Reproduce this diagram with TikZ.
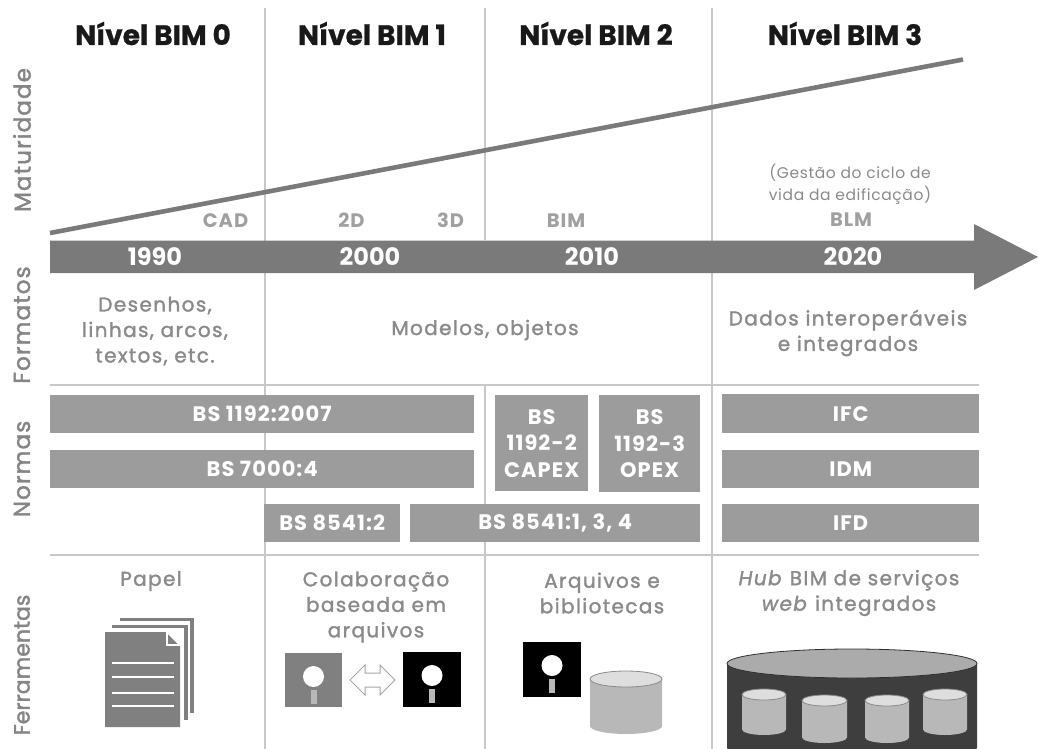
\documentclass[tikz,border=0pt]{standalone}
\usepackage{fontspec}
\setmainfont{Poppins}
\newfontfamily\medf[FakeBold=1.6,LetterSpace=7]{Poppins}
\newfontfamily\sidef[FakeBold=1.8,LetterSpace=5]{Poppins}
\newfontfamily\sidet[FakeBold=1.8]{Poppins}
\newfontfamily\thinf[LetterSpace=4]{Poppins}
\newfontfamily\boldsp[LetterSpace=5]{Poppins}
\newfontfamily\headf[FakeBold=0.8]{Poppins}
\definecolor{rule}{HTML}{C8C8C8}
\definecolor{bar}{HTML}{7A7A7A}
\definecolor{boxg}{HTML}{9C9C9C}
\definecolor{txt}{HTML}{8A8A8A}
\definecolor{lbl}{HTML}{858585}
\definecolor{pale}{HTML}{A0A0A0}
\definecolor{docg}{HTML}{808080}
\definecolor{cylb}{HTML}{B8B8B8}
\definecolor{cylt}{HTML}{DEDEDE}
\definecolor{hubb}{HTML}{3E3E3E}
\definecolor{hubt}{HTML}{ABABAB}
\newcommand{\fsz}[2]{\fontsize{#1}{#2}\selectfont}
\newcommand{\cylinder}[7]{%
  \pgfmathsetmacro{\cx}{(#1+#2)/2}\pgfmathsetmacro{\rx}{(#2-#1)/2}
  \pgfmathsetmacro{\ct}{#3+#5}\pgfmathsetmacro{\cb}{#4-#5}
  \fill[#6] (#1,\ct) -- (#1,\cb) arc[start angle=180,end angle=0,x radius=\rx,y radius=#5] -- (#2,\ct) -- cycle;
  \filldraw[fill=#7,draw=#6!75!black,line width=.8pt] (\cx,\ct) ellipse[x radius=\rx,y radius=#5];
}
\newcommand{\floppy}[5]{%
  \fill[#5] (#1,#3) rectangle (#2,#4);
  \pgfmathsetmacro{\cx}{(#1+#2)/2}\pgfmathsetmacro{\cc}{#3+23.5}
  \fill[white] (\cx,\cc) circle[radius=10.5];
  \fill[cylb] (\cx-3,\cc+13) rectangle (\cx+3,\cc+27);
}
\tikzset{
  rulel/.style={rule,line width=1.6pt},
  head/.style={font=\headf\bfseries\fsz{28}{30},text=black!90,anchor=base,inner sep=0},
  side/.style={text=lbl,rotate=90,inner sep=0,anchor=center},
  year/.style={font=\bfseries\fsz{24}{26},text=white,inner sep=0},
  fmt/.style={font=\medf\fsz{20}{25.5},text=txt,inner sep=0,align=center},
  norm/.style={fill=boxg,text=white,font=\boldsp\bfseries\fsz{21}{26.5},inner sep=0,align=center,anchor=north west},
  tag/.style={font=\boldsp\bfseries\fsz{19.5}{22},text=pale,inner sep=0,anchor=base},
}
\begin{document}
\begin{tikzpicture}[x=1pt,y=-1pt]
\useasboundingbox (0,0) rectangle (1038,749);
% grid
\coordinate (v1a) at (265,8);\coordinate (v1b) at (265,749);
\coordinate (v2a) at (485,8);\coordinate (v2b) at (485,240);
\coordinate (v2c) at (485,385);\coordinate (v2d) at (485,749);
\coordinate (v3a) at (712,8);\coordinate (v3b) at (712,749);
\coordinate (h1a) at (50,385);\coordinate (h1b) at (979,385);
\coordinate (h2a) at (50,555);\coordinate (h2b) at (979,555);
\draw[rulel] (v1a)--(v1b); \draw[rulel] (v2a)--(v2b); \draw[rulel] (v2c)--(v2d); \draw[rulel] (v3a)--(v3b);
\draw[rulel] (h1a)--(h1b); \draw[rulel] (h2a)--(h2b);
% maturity line
\coordinate (ma) at (50,233);\coordinate (mb) at (963,59.5);
\draw[bar,line width=4.6pt] (ma)--(mb);
% timeline arrow
\fill[bar] (50,240.5)--(974,240.5)--(974,224)--(1038,257)--(974,290)--(974,273)--(50,273)--cycle;
% headers
\node[head] (n0) at (153,45) {Nível BIM 0};
\node[head] (n1) at (372,45) {Nível BIM 1};
\node[head] (n2) at (596,45) {Nível BIM 2};
\node[head] (n3) at (845,45) {Nível BIM 3};
% side labels
\node[side,font=\sidef\fsz{23}{25}] (s1) at (22,140) {Maturidade};
\node[side,font=\sidef\fsz{23}{25}] (s2) at (22,325) {Formatos};
\node[side,font=\sidef\fsz{23}{25}] (s3) at (22,469) {Normas};
\node[side,font=\sidet\fsz{22}{25}] (s4) at (22,665) {Ferramentas};
% tags
\node[tag] (cad) at (225.5,227) {CAD};
\node[tag] (d2) at (351.5,227) {2D};
\node[tag] (d3) at (450.5,227) {3D};
\node[tag] (bim) at (566,227) {BIM};
\node[tag] (blm) at (851,226) {BLM};
\node[font=\thinf\fsz{15.5}{22},text=txt,inner sep=0,align=center] (gest) at (850,184) {(Gestão do ciclo de\\vida da edificação)};
% years
\node[year] (y0) at (155,257) {1990};
\node[year] (y1) at (370,257) {2000};
\node[year] (y2) at (592,257) {2010};
\node[year] (y3) at (853,257) {2020};
% formats
\node[fmt] (f0) at (155,331) {Desenhos,\\linhas, arcos,\\textos, etc.};
\node[fmt] (f1) at (485,330) {Modelos, objetos};
\node[fmt] (f2) at (848,333) {Dados interoperáveis\\e integrados};
% norms
\node[norm,minimum width=424pt,minimum height=38pt] (b1) at (50,395) {BS 1192:2007};
\node[norm,minimum width=424pt,minimum height=38pt] (b2) at (50,450) {BS 7000:4};
\node[norm,minimum width=136pt,minimum height=38pt] (b3) at (264,504) {BS 8541:2};
\node[norm,minimum width=290pt,minimum height=38pt] (b4) at (410,504) {BS 8541:1, 3, 4};
\node[norm,minimum width=93pt,minimum height=96pt] (b5) at (495,395) {BS\\1192-2\\CAPEX};
\node[norm,minimum width=101pt,minimum height=97pt] (b6) at (599,395) {BS\\1192-3\\OPEX};
\node[norm,minimum width=257pt,minimum height=39pt] (b7) at (722,394) {IFC};
\node[norm,minimum width=257pt,minimum height=38pt] (b8) at (722,450) {IDM};
\node[norm,minimum width=257pt,minimum height=38pt] (b9) at (722,504) {IFD};
% tool titles
\node[fmt] (t0) at (151,581) {Papel};
\node[fmt] (t1) at (376,607) {Colaboração\\baseada em\\arquivos};
\node[fmt] (t2) at (602,593) {Arquivos e\\bibliotecas};
\node[fmt] (t3) at (849,593) {\textit{Hub} BIM de serviços\\\textit{web} integrados};
% paper stack
\fill[docg] (120,618) rectangle (194,713);
\fill[white] (116,621) rectangle (190,717);
\fill[docg] (112,625) rectangle (188,720);
\fill[white] (108,628) rectangle (184,724);
\fill[docg] (105,632) -- (167,632) -- (180,645) -- (180,727) -- (105,727) -- cycle;
\filldraw[fill=docg,draw=white,line width=1.6pt] (167,632) -- (167,645) -- (180,645) -- cycle;
\foreach \ly in {663,677,693,706} \draw[white,line width=2pt] (112,\ly) -- (174,\ly);
% floppies
\floppy{285}{342}{653}{707}{docg}
\floppy{403}{461}{652}{707}{black}
\floppy{523}{581}{642}{697}{black}
% exchange arrow
\draw[docg!70,line width=1pt,fill=white] (350,680)--(365,665)--(365,673)--(380,673)--(380,665)--(395,680)--(380,695)--(380,687)--(365,687)--(365,695)--cycle;
% cylinders
\cylinder{590}{662}{671}{734}{8}{cylb}{cylt}
\cylinder{727}{977}{649}{762}{14.5}{hubb}{hubt}
\cylinder{742}{786}{689}{735}{5.5}{cylb}{cylt}
\cylinder{802}{847}{695}{743}{5.5}{cylb}{cylt}
\cylinder{865}{909}{695}{743}{5.5}{cylb}{cylt}
\cylinder{923}{967}{689}{735}{5.5}{cylb}{cylt}
\end{tikzpicture}
\end{document}
